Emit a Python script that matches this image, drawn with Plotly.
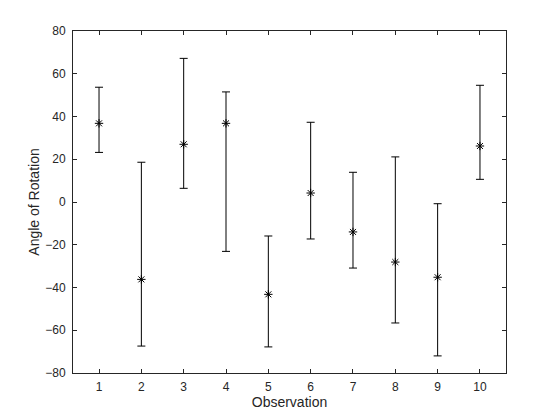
import plotly.graph_objects as go

observation = [1, 2, 3, 4, 5, 6, 7, 8, 9, 10]
angle = [36.8, -36.2, 27.0, 36.8, -43.2, 4.2, -14.0, -28.1, -35.2, 26.2]
upper = [53.7, 18.6, 67.2, 51.5, -15.9, 37.3, 13.9, 21.1, -0.8, 54.6]
lower = [23.2, -67.4, 6.4, -23.1, -67.8, -17.3, -30.9, -56.6, -72.0, 10.6]

err_plus = [u - a for u, a in zip(upper, angle)]
err_minus = [a - l for a, l in zip(angle, lower)]

x_ticks = list(range(1, 11))
y_ticks = list(range(-80, 81, 20))

ax_color = "#262626"

fig = go.Figure(
    go.Scatter(
        x=observation,
        y=angle,
        mode="markers",
        marker=dict(symbol="asterisk-open", size=7, color="black",
                    line=dict(color="black", width=1)),
        error_y=dict(type="data", symmetric=False, array=err_plus,
                     arrayminus=err_minus, color="black", thickness=1, width=4),
    )
)

fig.update_layout(
    width=560,
    height=420,
    margin=dict(l=73, r=54, t=31, b=47),
    plot_bgcolor="white",
    paper_bgcolor="white",
    showlegend=False,
    font=dict(family="Liberation Sans, Arial, sans-serif", size=12, color=ax_color),
)
fig.update_xaxes(
    range=[0.385, 10.615],
    tickmode="array",
    tickvals=x_ticks,
    ticks="inside",
    ticklen=4,
    tickcolor=ax_color,
    ticklabelstandoff=3,
    showline=True,
    linecolor=ax_color,
    linewidth=1,
    mirror="ticks",
    showgrid=False,
    zeroline=False,
    title=dict(text="Observation", font=dict(size=14), standoff=3),
)
fig.update_yaxes(
    range=[-80, 80],
    tickmode="array",
    tickvals=y_ticks,
    ticks="inside",
    ticklen=4,
    tickcolor=ax_color,
    ticklabelstandoff=4,
    showline=True,
    linecolor=ax_color,
    linewidth=1,
    mirror="ticks",
    showgrid=False,
    zeroline=False,
    title=dict(text="Angle of Rotation", font=dict(size=14), standoff=2),
)

fig.write_html("out.html", config={"displayModeBar": False},
               post_script="document.body.style.margin='0';")
